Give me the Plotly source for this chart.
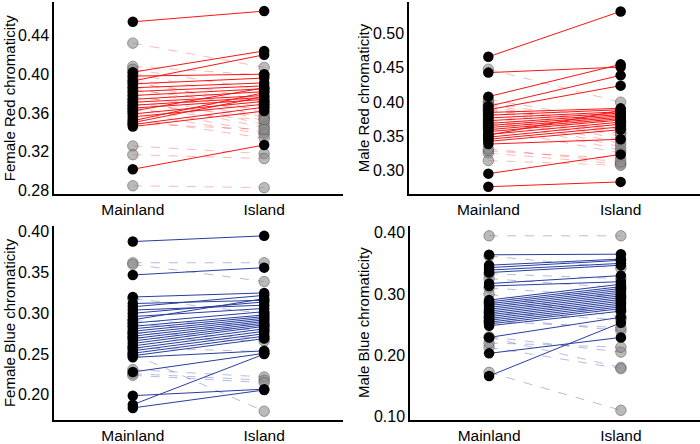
import plotly.graph_objects as go

# Female red chromaticity (mainland -> island)
fr_main = [0.454, 0.402, 0.393, 0.398, 0.390, 0.386, 0.382, 0.378, 0.374, 0.371,
           0.368, 0.365, 0.362, 0.359, 0.356, 0.352, 0.350, 0.348, 0.346, 0.302,
           0.432, 0.408, 0.405, 0.401, 0.397, 0.394, 0.391, 0.387, 0.384, 0.380,
           0.376, 0.373, 0.369, 0.366, 0.363, 0.360, 0.354, 0.349, 0.326, 0.317, 0.285]
fr_island = [0.465, 0.424, 0.420, 0.400, 0.396, 0.391, 0.388, 0.385, 0.382, 0.378,
             0.376, 0.374, 0.386, 0.372, 0.369, 0.381, 0.377, 0.366, 0.362, 0.327,
             0.407, 0.399, 0.384, 0.372, 0.360, 0.355, 0.370, 0.352, 0.367, 0.348,
             0.364, 0.345, 0.357, 0.340, 0.353, 0.338, 0.334, 0.343, 0.318, 0.313, 0.283]

# Male red chromaticity
mr_main = [0.466, 0.443, 0.408, 0.394, 0.389, 0.385, 0.381, 0.377, 0.373, 0.369,
           0.366, 0.363, 0.360, 0.357, 0.353, 0.349, 0.346, 0.343, 0.339, 0.352,
           0.296, 0.277,
           0.448, 0.404, 0.400, 0.397, 0.395, 0.392, 0.390, 0.388, 0.384, 0.380,
           0.375, 0.371, 0.367, 0.362, 0.329, 0.326, 0.315, 0.332]
mr_island = [0.532, 0.451, 0.455, 0.439, 0.424, 0.391, 0.389, 0.386, 0.384, 0.382,
             0.380, 0.378, 0.376, 0.374, 0.371, 0.368, 0.364, 0.360, 0.346, 0.388,
             0.324, 0.284,
             0.400, 0.372, 0.366, 0.360, 0.354, 0.350, 0.345, 0.370, 0.340, 0.335,
             0.330, 0.362, 0.356, 0.326, 0.318, 0.310, 0.308, 0.313]

# Female blue chromaticity
fb_main = [0.388, 0.347, 0.320, 0.312, 0.308, 0.304, 0.300, 0.296, 0.292, 0.288,
           0.284, 0.281, 0.278, 0.275, 0.272, 0.269, 0.266, 0.263, 0.260, 0.257,
           0.254, 0.251, 0.248, 0.246, 0.228, 0.199, 0.188, 0.184,
           0.362, 0.360, 0.318, 0.291, 0.286, 0.276, 0.270, 0.258, 0.250, 0.231,
           0.226, 0.224]
fb_island = [0.395, 0.356, 0.325, 0.316, 0.322, 0.310, 0.314, 0.306, 0.318, 0.302,
             0.298, 0.296, 0.294, 0.292, 0.290, 0.288, 0.286, 0.284, 0.281, 0.278,
             0.275, 0.272, 0.269, 0.254, 0.251, 0.207, 0.250, 0.206,
             0.362, 0.339, 0.300, 0.285, 0.279, 0.270, 0.266, 0.253, 0.180, 0.222,
             0.218, 0.215]

# Male blue chromaticity
mb_main = [0.364, 0.347, 0.343, 0.339, 0.335, 0.317, 0.313, 0.290, 0.287, 0.284,
           0.281, 0.278, 0.275, 0.272, 0.269, 0.266, 0.263, 0.260, 0.257, 0.254,
           0.251, 0.248, 0.229, 0.203, 0.166,
           0.395, 0.362, 0.333, 0.325, 0.310, 0.300, 0.286, 0.270, 0.262, 0.255,
           0.229, 0.213, 0.230, 0.220, 0.172]
mb_island = [0.365, 0.357, 0.355, 0.350, 0.347, 0.330, 0.320, 0.316, 0.312, 0.309,
             0.306, 0.303, 0.300, 0.297, 0.294, 0.291, 0.288, 0.285, 0.282, 0.279,
             0.276, 0.272, 0.262, 0.229, 0.253,
             0.395, 0.342, 0.325, 0.310, 0.295, 0.262, 0.272, 0.258, 0.240, 0.245,
             0.180, 0.178, 0.205, 0.213, 0.110]

FONT = "Liberation Sans, Arial, sans-serif"
RED = "rgb(250,20,20)"
RED_D = "rgba(250,20,20,0.3)"
BLUE = "rgb(40,62,160)"
BLUE_D = "rgba(40,62,160,0.35)"

panels = [
    (fr_main, fr_island, RED, RED_D, "Female Red chromaticity", [0.276, 0.4744],
     [0.28, 0.32, 0.36, 0.40, 0.44], ["0.28", "0.32", "0.36", "0.40", "0.44"]),
    (mr_main, mr_island, RED, RED_D, "Male Red chromaticity", [0.2657, 0.5457],
     [0.30, 0.35, 0.40, 0.45, 0.50], ["0.30", "0.35", "0.40", "0.45", "0.50"]),
    (fb_main, fb_island, BLUE, BLUE_D, "Female Blue chromaticity", [0.1688, 0.4072],
     [0.20, 0.25, 0.30, 0.35, 0.40], ["0.20", "0.25", "0.30", "0.35", "0.40"]),
    (mb_main, mb_island, BLUE, BLUE_D, "Male Blue chromaticity", [0.0936, 0.4112],
     [0.10, 0.20, 0.30, 0.40], ["0.10", "0.20", "0.30", "0.40"]),
]

W, H = 700, 444
xdom = [[54 / W, 343 / W], [409 / W, 1.0], [54 / W, 343 / W], [410 / W, 1.0]]
ydom = [[1 - 196 / H, 1.0], [1 - 196 / H, 1.0],
        [1 - 426 / H, 1 - 228 / H], [1 - 426 / H, 1 - 228 / H]]
title_x = [9 / W, 363 / W, 9 / W, 363 / W]

fig = go.Figure()
annotations = []

for i, (m, isl, col, col_d, title, yr, tv, tt) in enumerate(panels):
    n = "" if i == 0 else str(i + 1)
    xa, ya = "x" + n, "y" + n
    sx, sy, dx, dy = [], [], [], []
    up_pts, down_pts = [[], []], [[], []]
    for a, b in zip(m, isl):
        if b > a:
            sx += [1, 2, None]; sy += [a, b, None]
            up_pts[0] += [1, 2]; up_pts[1] += [a, b]
        else:
            dx += [1, 2, None]; dy += [a, b, None]
            down_pts[0] += [1, 2]; down_pts[1] += [a, b]
    fig.add_trace(go.Scatter(x=dx, y=dy, mode="lines", xaxis=xa, yaxis=ya,
                             line=dict(color=col_d, width=1, dash="dash"), showlegend=False))
    fig.add_trace(go.Scatter(x=sx, y=sy, mode="lines", xaxis=xa, yaxis=ya,
                             line=dict(color=col, width=1), showlegend=False))
    fig.add_trace(go.Scatter(x=down_pts[0], y=down_pts[1], mode="markers", xaxis=xa, yaxis=ya,
                             marker=dict(color="rgba(140,140,140,0.6)", size=10.5,
                                         line=dict(color="rgba(80,80,80,0.5)", width=1)),
                             showlegend=False))
    fig.add_trace(go.Scatter(x=up_pts[0], y=up_pts[1], mode="markers", xaxis=xa, yaxis=ya,
                             marker=dict(color="black", size=10.5), showlegend=False))

    fig.layout["xaxis" + n] = dict(
        domain=xdom[i], range=[0.4, 2.6], tickvals=[1, 2], ticktext=["Mainland", "Island"],
        showline=True, linecolor="black", linewidth=1.5, showgrid=False, zeroline=False,
        ticks="", tickfont=dict(size=15.5, color="black", family=FONT), anchor=ya,
        fixedrange=True)
    fig.layout["yaxis" + n] = dict(
        domain=ydom[i], range=yr, tickvals=tv, ticktext=tt,
        showline=True, linecolor="black", linewidth=1.5, showgrid=False, zeroline=False,
        ticks="", tickfont=dict(size=16, color="black", family=FONT), anchor=xa,
        fixedrange=True)
    annotations.append(dict(
        text=title, textangle=-90, xref="paper", yref="paper",
        x=title_x[i], y=sum(ydom[i]) / 2, xanchor="center", yanchor="middle",
        showarrow=False, font=dict(size=15, color="black", family=FONT)))

fig.update_layout(
    width=W, height=H, margin=dict(l=0, r=0, t=0, b=0),
    plot_bgcolor="white", paper_bgcolor="white",
    font=dict(family=FONT, color="black"),
    annotations=annotations,
)

fig.write_html("out.html", config={"displayModeBar": False},
               post_script="document.body.style.margin='0';")
